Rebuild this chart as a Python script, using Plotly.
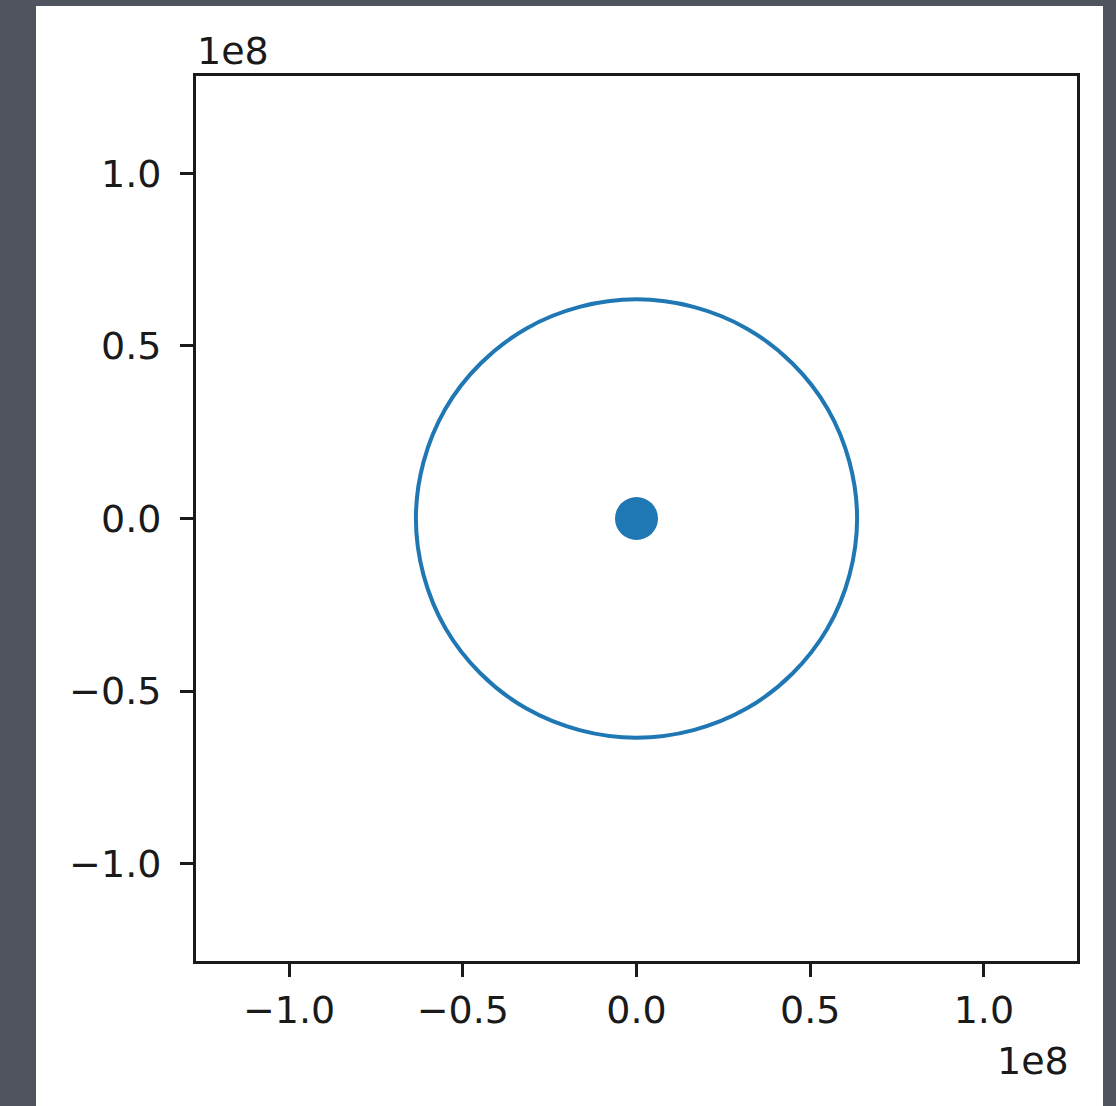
import plotly.graph_objects as go

# Orbit path (units of 1e8)
orbit_x = [0.635, 0.613, 0.550, 0.449, 0.318, 0.164, 0.000, -0.164, -0.318, -0.449, -0.550, -0.613,
           -0.635, -0.613, -0.550, -0.449, -0.318, -0.164, 0.000, 0.164, 0.318, 0.449, 0.550, 0.613, 0.635]
orbit_y = [0.000, 0.164, 0.318, 0.449, 0.550, 0.613, 0.635, 0.613, 0.550, 0.449, 0.318, 0.164,
           0.000, -0.164, -0.318, -0.449, -0.550, -0.613, -0.635, -0.613, -0.550, -0.449, -0.318, -0.164, 0.000]
# Central body
center_x = [0.0]
center_y = [0.0]

tick_vals = [-1.0, -0.5, 0.0, 0.5, 1.0]
tick_text = ["\u22121.0", "\u22120.5", "0.0", "0.5", "1.0"]

W, H = 1116, 1106
L, R, T, B = 196, 1077, 76, 961
blue = "#1f77b4"
dark = "#50545f"
font = dict(family="DejaVu Sans", size=38, color="#1a1a1a")

fig = go.Figure()
fig.add_trace(go.Scatter(x=orbit_x, y=orbit_y, mode="lines", line=dict(color=blue, width=4, shape="spline"),
                         hoverinfo="skip", showlegend=False))
fig.add_trace(go.Scatter(x=center_x, y=center_y, mode="markers",
                         marker=dict(color=blue, size=43, line=dict(width=0)), showlegend=False))

pw, ph = R - L, B - T
fig.add_shape(type="rect", xref="paper", yref="paper", layer="below",
              x0=(36 - L) / pw, x1=(1103 - L) / pw, y0=(B - 1115) / ph, y1=(B - 6) / ph,
              fillcolor="white", line=dict(width=0))

axis_common = dict(showgrid=False, zeroline=False, showline=True, linecolor="#1a1a1a", linewidth=3,
                   mirror=True, ticks="outside", ticklen=13, tickwidth=3, tickcolor="#1a1a1a",
                   tickvals=tick_vals, ticktext=tick_text, tickfont=font)
fig.update_xaxes(range=[-1.268, 1.268], **axis_common)
fig.update_yaxes(range=[-1.282, 1.282], ticklabelstandoff=11, **axis_common)

fig.add_annotation(text="1e8", xref="paper", yref="paper", x=(195 - L) / pw, y=(B - 51) / ph,
                   xanchor="left", yanchor="middle", showarrow=False, font=font)
fig.add_annotation(text="1e8", xref="paper", yref="paper", x=(1071 - L) / pw, y=(B - 1061) / ph,
                   xanchor="right", yanchor="middle", showarrow=False, font=font)

fig.update_layout(width=W, height=H, margin=dict(l=L, r=W - R, t=T, b=H - B, pad=0),
                  paper_bgcolor=dark, plot_bgcolor="white")
fig.write_html("out.html", config={"displayModeBar": False},
               post_script="document.body.style.margin='0';document.body.style.background='%s';"
                           "document.body.style.overflow='hidden';" % dark)
